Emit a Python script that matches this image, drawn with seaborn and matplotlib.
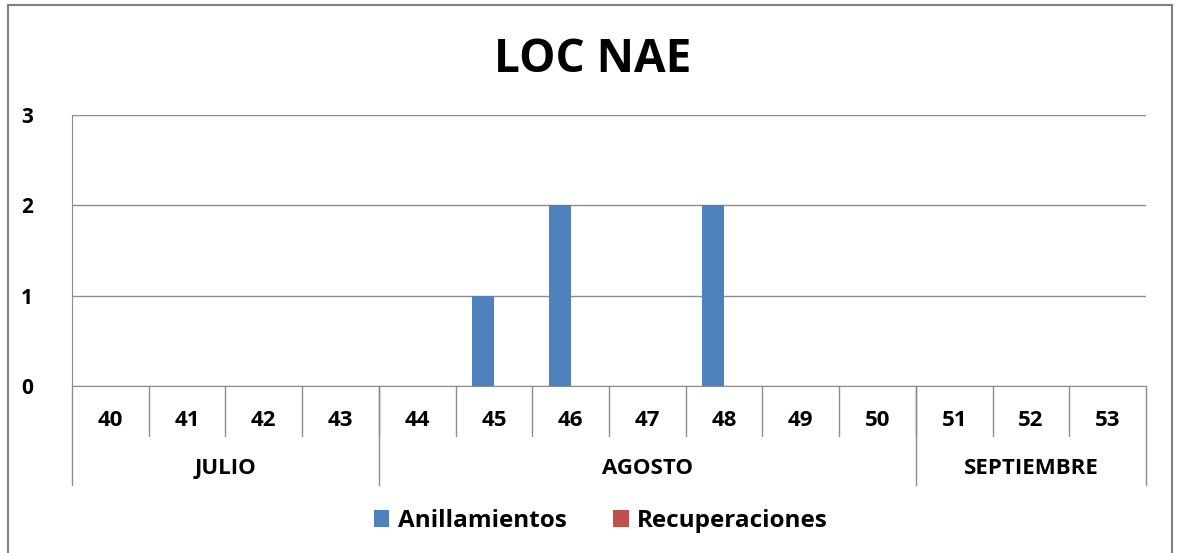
import pandas as pd
import matplotlib.pyplot as plt
import seaborn as sns
from matplotlib.patches import Rectangle

sns.set_style("white")
plt.rcParams["font.family"] = ["Open Sans", "DejaVu Sans"]
plt.rcParams["text.color"] = "black"
plt.rcParams["ytick.labelcolor"] = "black"

# ===== DATOS =====
semanas = ["40", "41", "42", "43", "44", "45", "46", "47", "48", "49", "50", "51", "52", "53"]
anillamientos = [0, 0, 0, 0, 0, 1, 2, 0, 2, 0, 0, 0, 0, 0]
recuperaciones = [0, 0, 0, 0, 0, 0, 0, 0, 0, 0, 0, 0, 0, 0]
meses = ["JULIO", "AGOSTO", "SEPTIEMBRE"]
semanas_por_mes = [4, 7, 3]

df = pd.DataFrame({
    "Semana": semanas * 2,
    "Valor": anillamientos + recuperaciones,
    "Serie": ["Anillamientos"] * len(semanas) + ["Recuperaciones"] * len(semanas),
})

gris = "#8c8c8c"

fig = plt.figure(figsize=(11.78, 5.53), dpi=100)
ax = fig.add_axes([0.0611, 0.302, 0.9117, 0.490])

sns.barplot(data=df, x="Semana", y="Valor", hue="Serie", order=semanas,
            palette=["#4F81BD", "#C0504D"], saturation=1, linewidth=0,
            width=0.571, ax=ax, legend=True)

ax.set_xlim(-0.5, len(semanas) - 0.5)
ax.set_ylim(0, 3)
ax.set_yticks([0, 1, 2, 3])
ax.yaxis.grid(True, color=gris, linewidth=1)
ax.set_axisbelow(True)
for s in ["top", "right"]:
    ax.spines[s].set_visible(False)
ax.spines["left"].set_color(gris)
ax.spines["bottom"].set_color(gris)
ax.tick_params(axis="y", length=8, color=gris, width=1, pad=20, labelsize=15)
for t in ax.get_yticklabels():
    t.set_fontweight("bold")
ax.set_xticks([])
ax.set_xlabel("")
ax.set_ylabel("")

# ===== TABLA DE EJES (semanas y meses) =====
trans = ax.get_xaxis_transform()
fila1 = -0.185
fila2 = -0.365
for i, s in enumerate(semanas):
    ax.text(i, fila1 / 2 - 0.035, s, transform=trans, ha="center", va="center",
            fontsize=16, fontweight="bold")
for i in range(1, len(semanas)):
    ax.plot([i - 0.5, i - 0.5], [0, fila1], transform=trans, color=gris,
            linewidth=1, clip_on=False)
inicio = -0.5
for mes, n in zip(meses, semanas_por_mes):
    fin = inicio + n
    ax.text((inicio + fin) / 2, (fila1 + fila2) / 2 - 0.03, mes, transform=trans,
            ha="center", va="center", fontsize=16, fontweight="bold")
    ax.plot([fin, fin], [0, fila2], transform=trans, color=gris, linewidth=1, clip_on=False)
    inicio = fin
ax.plot([-0.5, -0.5], [0, fila2], transform=trans, color=gris, linewidth=1, clip_on=False)

# ===== TÍTULO Y LEYENDA =====
fig.text(0.503, 0.893, "LOC NAE", ha="center", va="center", fontsize=33, fontweight="bold")

handles, labels = ax.get_legend_handles_labels()
ax.legend_.remove()
leg = fig.legend(handles, labels, loc="center", bbox_to_anchor=(0.51, 0.058), ncol=2,
                 frameon=False, prop={"size": 17.5, "weight": "bold"},
                 handlelength=0.65, handleheight=0.65,
                 handletextpad=0.35, columnspacing=1.9)

# marco exterior
fig.patches.append(Rectangle((8 / 1178, -0.01), 1164 / 1178, 1 - 5 / 553 + 0.01,
                             transform=fig.transFigure, fill=False,
                             edgecolor="#7f7f7f", linewidth=1.5))

fig.savefig("out.png", dpi=100)
